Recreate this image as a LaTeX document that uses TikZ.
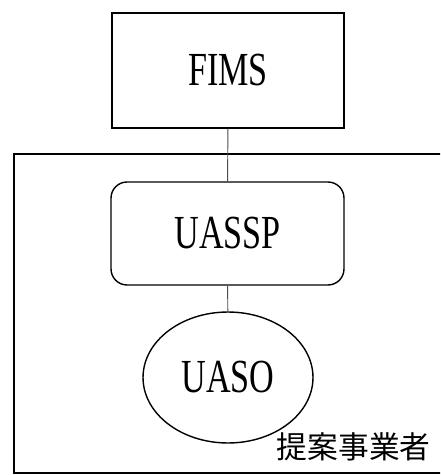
\documentclass[tikz,border=0pt]{standalone}
\usepackage{fontspec}
\usepackage{tikz}
\usetikzlibrary{shapes.geometric}
\newfontfamily\boxfont{Liberation Serif}
\newfontfamily\cjkfont{Noto Sans CJK JP}
\newcommand{\narrow}[1]{\scalebox{0.72}[1]{#1}}

\begin{document}
\begin{tikzpicture}[x=0.02cm, y=-0.02cm,
    unit/.style={draw, line width=0.8pt, inner sep=0pt,
      font=\boxfont\fontsize{27pt}{29pt}\selectfont},
    link/.style={draw=black!70, line width=0.55pt}]
    \useasboundingbox (0,0) rectangle (440,475);
    \clip (0,0) rectangle (440,475);
    % operator frame, runs off the right edge
    \draw[line width=0.8pt] (14,154) rectangle (460,473);
    \node[unit, rectangle, minimum width=4.64cm, minimum height=2.3cm] (fims) at (228,70.5) {\narrow{FIMS}};
    \node[unit, rectangle, rounded corners=0.32cm, minimum width=4.66cm, minimum height=2.06cm] (uassp) at (227.5,233.5) {\narrow{UASSP}};
    \node[unit, ellipse, minimum width=3.4cm, minimum height=2.62cm] (uaso) at (228,377.5) {\narrow{UASO}};
    \node[anchor=south east, inner sep=0pt, font=\cjkfont\fontsize{17.5pt}{19pt}\selectfont] (operator) at (431,461) {提案事業者};
    \draw[link] (fims) -- (uassp);
    \draw[link] (uassp) -- (uaso);
\end{tikzpicture}
\end{document}
